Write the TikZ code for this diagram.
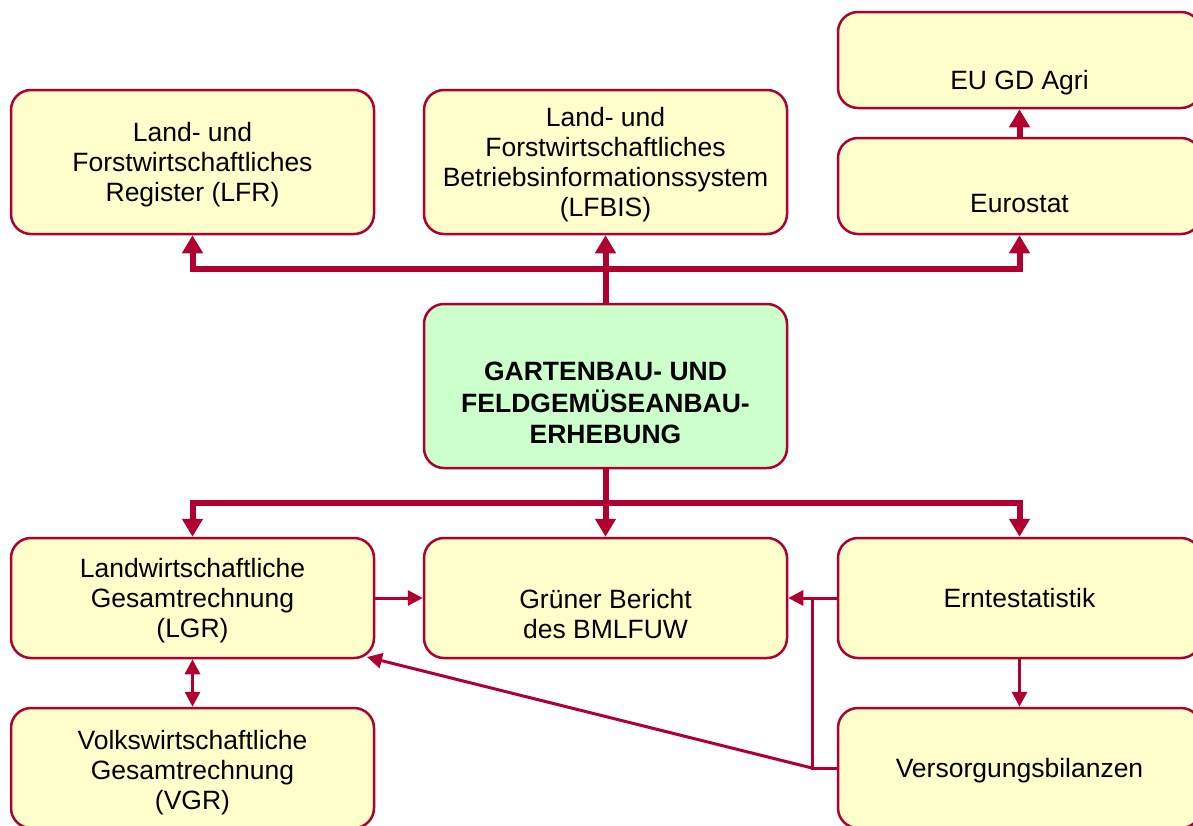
\documentclass[tikz,border=0pt]{standalone}
\usepackage{fontspec}
\setmainfont{Liberation Sans}
\usetikzlibrary{arrows.meta}
\definecolor{dred}{RGB}{176,0,48}
\definecolor{lyellow}{RGB}{255,255,204}
\definecolor{lgreen}{RGB}{204,255,204}
\newcommand\boxfont{\fontsize{26.5}{30}\selectfont}
\newcommand\cenfont{\fontsize{26.5}{31.5}\selectfont\bfseries}
\tikzset{
  box/.style={draw=dred, line width=2.5pt, fill=lyellow, rounded corners=20pt,
    minimum width=363pt, inner sep=0pt},
  txt/.style={align=center, font=\boxfont, inner sep=0pt},
  bus/.style={draw=dred, line width=6pt},
  thinc/.style={draw=dred, line width=3pt},
  bigtip/.tip={Triangle[width=20pt,length=18pt]},
  smalltip/.tip={Triangle[width=15pt,length=15pt]}
}
\begin{document}
\begin{tikzpicture}[x=1pt,y=-1pt]
\useasboundingbox (0,0) rectangle (1193,825);
\fill[white] (0,0) rectangle (1193,825);
\clip (0,0) rectangle (1193,825);

% boxes
\node[box, minimum height=144pt] (lfr) at (192.5,162) {};
\node[txt] (lfrt) at (192.5,165) {Land- und\\Forstwirtschaftliches\\Register (LFR)};
\node[box, minimum height=144pt] (lfbis) at (605.5,162) {};
\node[txt] (lfbist) at (605.5,164.5) {Land- und\\Forstwirtschaftliches\\Betriebsinformationssystem\\(LFBIS)};
\node[box, minimum height=96pt] (eu) at (1019.5,60) {};
\node[txt] (eut) at (1019.5,83) {EU GD Agri};
\node[box, minimum height=96pt] (euro) at (1019.5,186) {};
\node[txt] (eurot) at (1019.5,204) {Eurostat};
\node[box, fill=lgreen, minimum height=164pt] (cen) at (605.5,386) {};
\node[txt, font=\cenfont] (cent) at (605.5,403) {GARTENBAU- UND\\FELDGEMÜSEANBAU-\\ERHEBUNG};
\node[box, minimum height=120pt] (lgr) at (192.5,598) {};
\node[txt] (lgrt) at (192.5,601) {Landwirtschaftliche\\Gesamtrechnung\\(LGR)};
\node[box, minimum height=120pt] (grun) at (605.5,598) {};
\node[txt] (grunt) at (605.5,614) {Grüner Bericht\\des BMLFUW};
\node[box, minimum height=120pt] (ernte) at (1019.5,598) {};
\node[txt] (erntet) at (1019.5,598.5) {Erntestatistik};
\node[box, minimum height=120pt] (vgr) at (192.5,768) {};
\node[txt] (vgrt) at (192.5,773) {Volkswirtschaftliche\\Gesamtrechnung\\(VGR)};
\node[box, minimum height=120pt] (vers) at (1019.5,768) {};
\node[txt] (verst) at (1019.5,771) {Versorgungsbilanzen};

% top bus
\coordinate (tb) at (605.5,268.5);
\draw[bus] (cen.north) -- (tb);
\draw[bus,-bigtip] (tb) -| (lfr.south);
\draw[bus,-bigtip] (tb) -- (lfbis.south);
\draw[bus,-bigtip] (tb) -| (euro.south);
\draw[bus,-bigtip] (euro.north) -- (eu.south);

% bottom bus
\coordinate (bb) at (605.5,503);
\draw[bus] (cen.south) -- (bb);
\draw[bus,-bigtip] (bb) -| (lgr.north);
\draw[bus,-bigtip] (bb) -- (grun.north);
\draw[bus,-bigtip] (bb) -| (ernte.north);

% thin connectors
\coordinate (j1) at (812,768);
\coordinate (j2) at (812,598);
\coordinate (lgrc) at (367,657);
\draw[thinc,-smalltip] (lgr.east) -- (grun.west);
\draw[thinc,-smalltip] (ernte.west) -- (grun.east);
\draw[thinc] (vers.west) -- (j1) -- (j2);
\draw[thinc,-smalltip] (j1) -- (lgrc);
\draw[thinc,-smalltip] (ernte.south) -- (vers.north);
\draw[thinc,smalltip-smalltip] (lgr.south) -- (vgr.north);
\end{tikzpicture}
\end{document}
